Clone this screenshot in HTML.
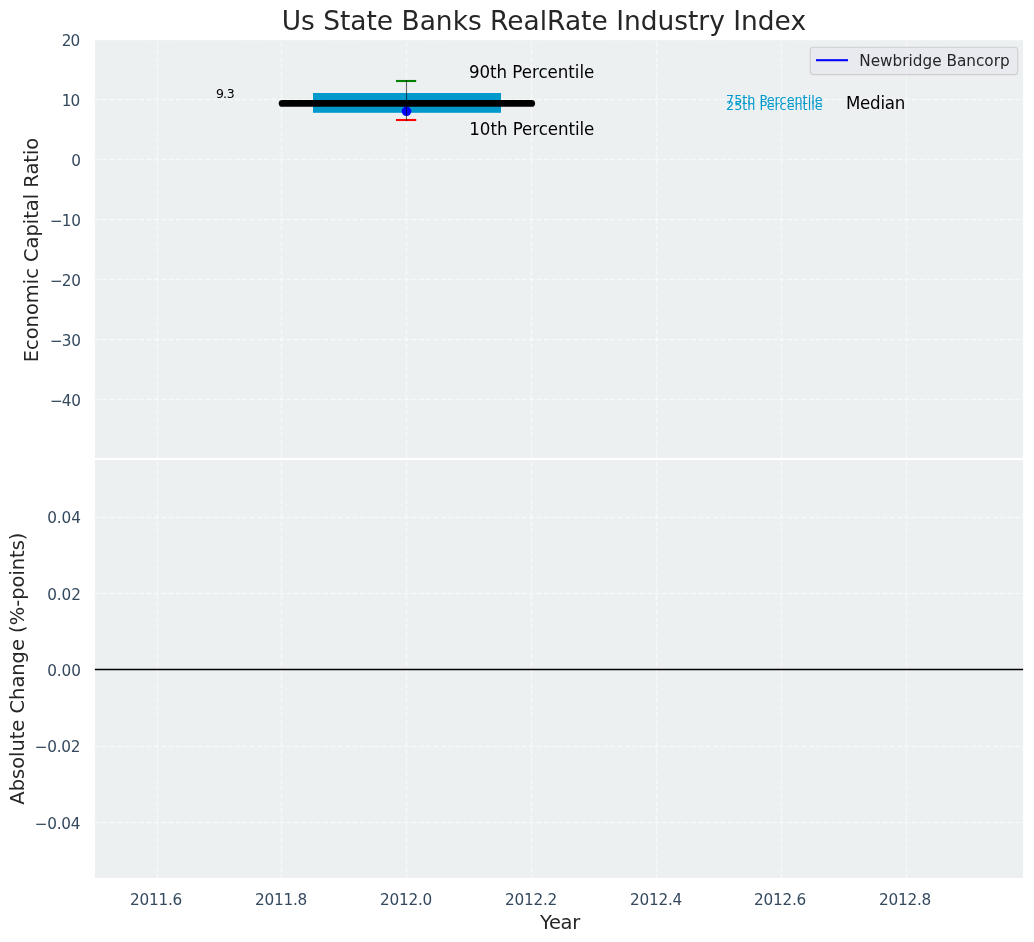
<!DOCTYPE html>
<html lang="en"><head><meta charset="utf-8"><title>Us State Banks RealRate Industry Index</title>
<style>html,body{margin:0;padding:0;background:#fff;}body{width:1034px;height:942px;overflow:hidden;}svg{display:block;}text{font-family:"DejaVu Sans","Liberation Sans",sans-serif;}</style>
</head><body>
<svg width="1034" height="942" viewBox="0 0 1034 942">
<rect x="0" y="0" width="1034" height="942" fill="#ffffff"/>
<rect x="94.9" y="39.9" width="928.2" height="418.0" fill="#ecf0f1"/>
<rect x="94.9" y="460.1" width="928.2" height="417.9" fill="#ecf0f1"/>
<g stroke="#ffffff" stroke-opacity="0.6" stroke-width="1.39" stroke-dasharray="5.14 2.22" fill="none">
<line x1="157.5" y1="457.9" x2="157.5" y2="39.9" stroke-dashoffset="1.6"/>
<line x1="157.5" y1="878.0" x2="157.5" y2="460.1" stroke-dashoffset="1.4"/>
<line x1="281.5" y1="457.9" x2="281.5" y2="39.9" stroke-dashoffset="1.6"/>
<line x1="281.5" y1="878.0" x2="281.5" y2="460.1" stroke-dashoffset="1.4"/>
<line x1="406.5" y1="457.9" x2="406.5" y2="39.9" stroke-dashoffset="1.6"/>
<line x1="406.5" y1="878.0" x2="406.5" y2="460.1" stroke-dashoffset="1.4"/>
<line x1="531.5" y1="457.9" x2="531.5" y2="39.9" stroke-dashoffset="1.6"/>
<line x1="531.5" y1="878.0" x2="531.5" y2="460.1" stroke-dashoffset="1.4"/>
<line x1="656.5" y1="457.9" x2="656.5" y2="39.9" stroke-dashoffset="1.6"/>
<line x1="656.5" y1="878.0" x2="656.5" y2="460.1" stroke-dashoffset="1.4"/>
<line x1="781.5" y1="457.9" x2="781.5" y2="39.9" stroke-dashoffset="1.6"/>
<line x1="781.5" y1="878.0" x2="781.5" y2="460.1" stroke-dashoffset="1.4"/>
<line x1="906.5" y1="457.9" x2="906.5" y2="39.9" stroke-dashoffset="1.6"/>
<line x1="906.5" y1="878.0" x2="906.5" y2="460.1" stroke-dashoffset="1.4"/>
<line x1="94.9" y1="99.5" x2="1023.1" y2="99.5"/>
<line x1="94.9" y1="159.5" x2="1023.1" y2="159.5"/>
<line x1="94.9" y1="219.5" x2="1023.1" y2="219.5"/>
<line x1="94.9" y1="279.5" x2="1023.1" y2="279.5"/>
<line x1="94.9" y1="339.5" x2="1023.1" y2="339.5"/>
<line x1="94.9" y1="399.5" x2="1023.1" y2="399.5"/>
<line x1="94.9" y1="517.5" x2="1023.1" y2="517.5"/>
<line x1="94.9" y1="593.5" x2="1023.1" y2="593.5"/>
<line x1="94.9" y1="669.5" x2="1023.1" y2="669.5"/>
<line x1="94.9" y1="746.5" x2="1023.1" y2="746.5"/>
<line x1="94.9" y1="822.5" x2="1023.1" y2="822.5"/>
</g>
<line x1="94.9" y1="40.2" x2="1023.1" y2="40.2" stroke="#fff" stroke-opacity="0.5" stroke-width="0.8" stroke-dasharray="5.14 2.22"/>
<rect x="313" y="93" width="188" height="19.8" fill="#0099cc"/>
<circle cx="406.5" cy="111.3" r="4.8" fill="#0000ff"/>
<line x1="282.2" y1="103.4" x2="531.6" y2="103.4" stroke="#000" stroke-width="6.94" stroke-linecap="round"/>
<line x1="396" y1="81" x2="416.2" y2="81" stroke="#008000" stroke-width="2.1"/>
<line x1="396" y1="120" x2="416.2" y2="120" stroke="#ff0000" stroke-width="2.1"/>
<line x1="406.5" y1="80.2" x2="406.5" y2="121" stroke="#000" stroke-opacity="0.6" stroke-width="1.1"/>
<text transform="translate(468.9 77.6) scale(1 1.07)" font-size="16.67" fill="#000" letter-spacing="-0.03">90th Percentile</text>
<text transform="translate(469.3 134.9) scale(1 1.07)" font-size="16.67" fill="#000" letter-spacing="-0.05">10th Percentile</text>
<text transform="translate(846 108.7) scale(1 1.08)" font-size="16.67" fill="#000" letter-spacing="-0.25">Median</text>
<text x="726" y="104.2" font-size="12.8" fill="#0099cc">75th Percentile</text>
<text x="726" y="109.9" font-size="12.8" fill="#0099cc">25th Percentile</text>
<text x="216.1" y="98.1" font-size="12.5" fill="#000" letter-spacing="-0.3" dx="0 -0.65 0">9.3</text>
<line x1="94.9" y1="669.5" x2="1023.1" y2="669.5" stroke="#000" stroke-width="1.39"/>
<rect x="810.2" y="47.3" width="207.6" height="27.3" rx="3" ry="3" fill="#e9e9f0" fill-opacity="0.85" stroke="#cccccc" stroke-opacity="0.92" stroke-width="1.1"/>
<line x1="816" y1="60.2" x2="848" y2="60.2" stroke="#0000ff" stroke-width="2.08"/>
<text x="859.3" y="65.8" font-size="15.28" fill="#262626">Newbridge Bancorp</text>
<g font-size="15.28" fill="#34495e" letter-spacing="-0.28">
<text x="156.0" y="904.9" text-anchor="middle" letter-spacing="-0.24">2011.6</text>
<text x="281.05" y="904.9" text-anchor="middle" letter-spacing="-0.24">2011.8</text>
<text x="406.05" y="904.9" text-anchor="middle" letter-spacing="-0.24">2012.0</text>
<text x="531.05" y="904.9" text-anchor="middle" letter-spacing="-0.24">2012.2</text>
<text x="656.05" y="904.9" text-anchor="middle" letter-spacing="-0.24">2012.4</text>
<text x="780.1" y="904.9" text-anchor="middle" letter-spacing="-0.24">2012.6</text>
<text x="905.1" y="904.9" text-anchor="middle" letter-spacing="-0.24">2012.8</text>
<text x="79.2" y="45.6" text-anchor="end" letter-spacing="-0.98">20</text>
<text x="79.2" y="106" text-anchor="end" letter-spacing="-0.98">10</text>
<text x="79.9" y="166" text-anchor="end" letter-spacing="-0.98">0</text>
<text x="79.9" y="226" text-anchor="end" letter-spacing="-0.98" dx="0 0 0.7">−10</text>
<text x="79.9" y="286" text-anchor="end" letter-spacing="-0.98" dx="0 0 0.7">−20</text>
<text x="79.9" y="346" text-anchor="end" letter-spacing="-0.98" dx="0 0 0.7">−30</text>
<text x="79.9" y="406" text-anchor="end" letter-spacing="-0.98" dx="0 0 0.7">−40</text>
<text x="80.9" y="523.1" text-anchor="end" letter-spacing="-0.08">0.04</text>
<text x="80.9" y="600" text-anchor="end" letter-spacing="-0.08">0.02</text>
<text x="80.9" y="676" text-anchor="end" letter-spacing="-0.08">0.00</text>
<text x="80.2" y="752" text-anchor="end">−0.02</text>
<text x="80.2" y="829" text-anchor="end">−0.04</text>
</g>
<text x="559.9" y="928.7" font-size="19.44" fill="#262626" text-anchor="middle" letter-spacing="-0.3">Year</text>
<text transform="translate(38.2 250) rotate(-90)" font-size="19.44" fill="#262626" text-anchor="middle">Economic Capital Ratio</text>
<text transform="translate(23.9 668.6) rotate(-90)" font-size="19.44" fill="#262626" text-anchor="middle">Absolute Change (%-points)</text>
<text x="543.85" y="29.9" font-size="26.45" fill="#262626" text-anchor="middle">Us State Banks RealRate Industry Index</text>
</svg>
</body></html>
